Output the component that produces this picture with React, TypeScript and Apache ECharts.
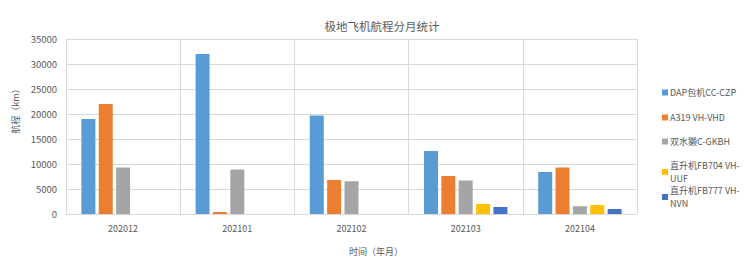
import React, { useEffect, useRef } from "react";
import * as echarts from "echarts";

const categories = ["202012", "202101", "202102", "202103", "202104"];
const seriesNames = [
  "DAP包机CC-CZP",
  "A319 VH-VHD",
  "双水獭C-GKBH",
  "直升机FB704 VH-UUF",
  "直升机FB777 VH-NVN",
];
const dapValues = [19000, 32000, 19700, 12600, 8400];
const a319Values = [22000, 400, 6800, 7600, 9300];
const otterValues = [9300, 8900, 6550, 6700, 1550];
const fb704Values = [0, 0, 0, 2000, 1800];
const fb777Values = [0, 0, 0, 1400, 1000];
const colors = ["#5B9BD5", "#ED7D31", "#A5A5A5", "#FFC000", "#4472C4"];
const legendTops = [81, 106, 130, 154, 179];
const legendLabels = [
  "DAP包机CC-CZP",
  "A319 VH-VHD",
  "双水獭C-GKBH",
  "直升机FB704 VH-\nUUF",
  "直升机FB777 VH-\nNVN",
];

export default function App() {
  const ref = useRef<HTMLDivElement>(null);
  useEffect(() => {
    if (!ref.current) return;
    const chart = echarts.init(ref.current, null, { renderer: "svg" });
    const allValues = [dapValues, a319Values, otterValues, fb704Values, fb777Values];
    const font = "'Microsoft YaHei', 'Noto Sans CJK SC', 'Noto Sans', sans-serif";
    chart.setOption({
      animation: false,
      textStyle: { fontFamily: font },
      title: {
        text: "极地飞机航程分月统计",
        left: 377,
        top: 15,
        textAlign: "center",
        textStyle: { fontSize: 11.5, fontWeight: "normal", color: "#595959", fontFamily: font },
      },
      legend: seriesNames.map((n, i) => ({
        data: [n],
        orient: "vertical",
        left: 657,
        top: legendTops[i],
        itemWidth: 6,
        itemHeight: 6,
        itemGap: 0,
        icon: "rect",
        formatter: () => legendLabels[i],
        textStyle: { fontSize: 9, color: "#595959", fontFamily: font, lineHeight: 13, padding: [0, 0, 0, -3] },
      })),
      grid: { left: 66, right: 112, top: 39, bottom: 47 },
      xAxis: {
        type: "category",
        data: categories,
        axisLine: { lineStyle: { color: "#D9D9D9" } },
        axisTick: { show: false },
        axisLabel: { fontSize: 9, color: "#595959", margin: 10 },
        splitLine: { show: true, lineStyle: { color: "#D9D9D9" } },
      },
      yAxis: {
        type: "value",
        min: 0,
        max: 35000,
        interval: 5000,
        axisLine: { show: false },
        axisTick: { show: false },
        axisLabel: { fontSize: 9.5, color: "#595959", margin: 9, formatter: (v: number) => String(v) },
        splitLine: { lineStyle: { color: "#D9D9D9" } },
      },
      graphic: [
        {
          type: "text",
          x: 15,
          y: 109,
          rotation: Math.PI / 2,
          style: {
            text: "航程（km）",
            fontSize: 9,
            fill: "#595959",
            align: "center",
            verticalAlign: "middle",
            fontFamily: font,
          },
        },
        {
          type: "text",
          x: 376,
          y: 251,
          style: {
            text: "时间（年月）",
            fontSize: 9,
            fill: "#595959",
            align: "center",
            verticalAlign: "middle",
            fontFamily: font,
          },
        },
      ],
      series: seriesNames.map((n, i) => ({
        name: n,
        type: "bar",
        data: allValues[i],
        barWidth: 14,
        barGap: "24%",
        itemStyle: { color: colors[i] },
      })),
    });
    return () => chart.dispose();
  }, []);
  return <div ref={ref} style={{ width: 749, height: 261, position: "absolute", left: 0, top: 0 }} />;
}
